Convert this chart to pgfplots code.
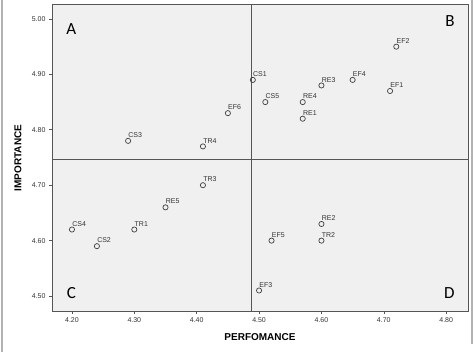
\documentclass[border=0pt]{standalone}
\usepackage{fontspec}
\setmainfont{Liberation Sans}
\newfontfamily\carl{Carlito}
\usepackage{pgfplots}
\pgfplotsset{compat=1.18}
\definecolor{bgc}{HTML}{F0F0F0}
\definecolor{ln}{HTML}{555555}
\begin{document}
\begin{tikzpicture}[x=1pt,y=1pt]
\path[use as bounding box] (0,0) rectangle (474,352);
\draw[gray!60,line width=1.2pt] (2,352) -- (2,0);
\draw[gray!60,line width=1.2pt] (472,352) -- (472,8);
\node[rotate=90, font=\fontsize{10}{12}\selectfont\bfseries] at (18,194) {IMPORTANCE};
\node[font=\fontsize{10}{12}\selectfont\bfseries] at (260,15) {PERFOMANCE};
\begin{axis}[
  at={(52pt,41pt)}, anchor=south west,
  scale only axis, width=416pt, height=307pt,
  xmin=4.168, xmax=4.835, ymin=4.473, ymax=5.027,
  axis background/.style={fill=bgc},
  axis line style={ln, line width=0.8pt},
  xtick={4.2,4.3,...,4.8}, ytick={4.5,4.6,...,5.0},
  xticklabel style={/pgf/number format/.cd, fixed, fixed zerofill, precision=2},
  yticklabel style={/pgf/number format/.cd, fixed, fixed zerofill, precision=2},
  /pgf/number format/assume math mode=true,
  tick label style={font=\fontsize{7}{8}\selectfont, text=black!80},
  tick align=outside, tick pos=left, major tick length=3pt,
  tick style={ln, line width=0.6pt},
  clip=false,
]
\draw[ln, line width=0.8pt] (axis cs:4.487,4.473) -- (axis cs:4.487,5.027);
\draw[ln, line width=0.8pt] (axis cs:4.168,4.746) -- (axis cs:4.835,4.746);
\addplot[only marks, mark=o, mark size=2.6pt, mark options={black!75, line width=0.7pt},
  nodes near coords, point meta=explicit symbolic,
  every node near coord/.append style={anchor=south west, inner sep=0pt, xshift=0pt, yshift=3pt, font=\fontsize{7}{8}\selectfont, text=black!80}]
  table[meta=label] {
x y label
4.20 4.62 CS4
4.24 4.59 CS2
4.30 4.62 TR1
4.35 4.66 RE5
4.41 4.70 TR3
4.29 4.78 CS3
4.41 4.77 TR4
4.45 4.83 EF6
4.49 4.89 CS1
4.51 4.85 CS5
4.57 4.85 RE4
4.57 4.82 RE1
4.60 4.88 RE3
4.65 4.89 EF4
4.71 4.87 EF1
4.72 4.95 EF2
4.52 4.60 EF5
4.60 4.63 RE2
4.60 4.60 TR2
4.50 4.51 EF3
};
\node[font=\carl\fontsize{17}{17}\selectfont] at (axis cs:4.199,4.982) {A};
\node[font=\carl\fontsize{17}{17}\selectfont] at (axis cs:4.806,4.997) {B};
\node[font=\carl\fontsize{17}{17}\selectfont] at (axis cs:4.199,4.506) {C};
\node[font=\carl\fontsize{17}{17}\selectfont] at (axis cs:4.805,4.506) {D};
\end{axis}
\end{tikzpicture}
\end{document}
